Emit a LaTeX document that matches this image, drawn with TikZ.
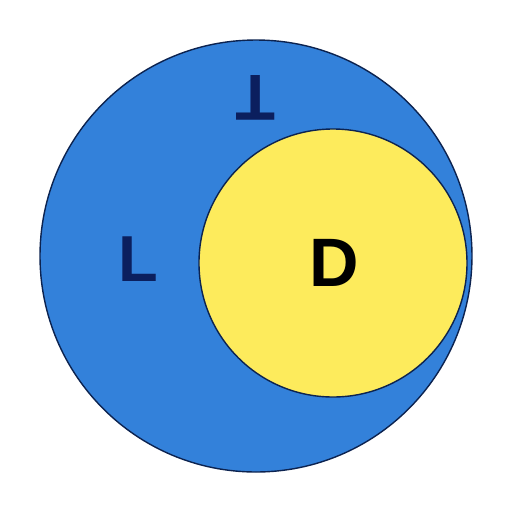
\documentclass[tikz,border=0pt]{standalone}
\usepackage{fontspec}
\setmainfont{Liberation Sans}
\usepackage{tikz}
\usetikzlibrary{positioning}

\definecolor{setblue}{HTML}{3381DA}
\definecolor{setyellow}{HTML}{FDEB5C}
\definecolor{edgenavy}{HTML}{0C2350}
\definecolor{letternavy}{HTML}{0B1F5E}

\begin{document}
\begin{tikzpicture}[
  x=0.02cm, y=-0.02cm,
  setdisc/.style = {circle, draw=edgenavy, line width=0.8pt, inner sep=0pt},
  letter/.style = {font=\bfseries\fontsize{37}{37}\selectfont, inner sep=0pt}
]
  \useasboundingbox (0,0) rectangle (512,512);

  % Outer set
  \node[setdisc, fill=setblue, minimum size=432*0.02cm] (outer) at (256,256) {};

  % Inner set
  \node[setdisc, fill=setyellow, minimum size=268*0.02cm] (inner) at (333,263) {};

  % Labels
  \node[letter, text=letternavy] (lbl) at (138,259) {L};
  \node[letter, text=letternavy, rotate=180] (tbl) at (256,98) {T};
  \node[letter, text=black, font=\bfseries\fontsize{39}{39}\selectfont] (dbl) at (334,263) {D};

\end{tikzpicture}
\end{document}
